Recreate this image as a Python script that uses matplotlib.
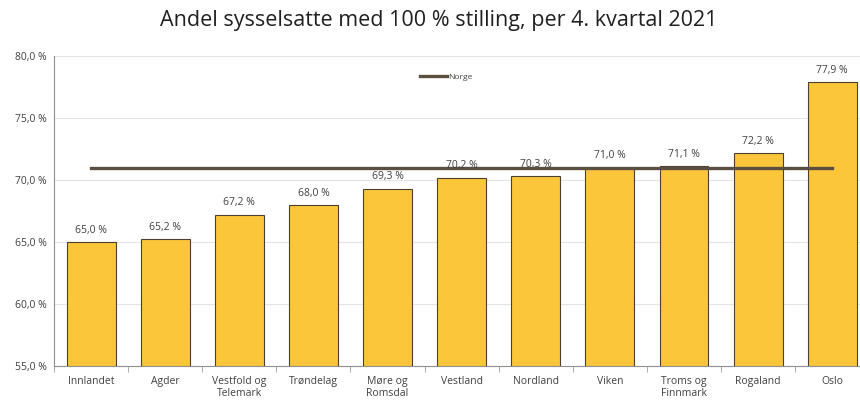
import numpy as np
import matplotlib.pyplot as plt

regions = ["Innlandet", "Agder", "Vestfold og\nTelemark", "Trøndelag", "Møre og\nRomsdal",
           "Vestland", "Nordland", "Viken", "Troms og\nFinnmark", "Rogaland", "Oslo"]
andel = [65.0, 65.2, 67.2, 68.0, 69.3, 70.2, 70.3, 71.0, 71.1, 72.2, 77.9]
norge = 71.0
yticks = [55, 60, 65, 70, 75, 80]

BAR = "#fbc63a"
EDGE = "#4a4030"
LINE = "#5b5040"
GRAY = "#404040"

plt.rcParams['font.family'] = ['Open Sans', 'DejaVu Sans']

fig = plt.figure(figsize=(8.6, 4.03), dpi=100)
ax = fig.add_axes([0.0628, 0.092, 0.948, 0.769])

x = np.arange(len(regions))
ax.bar(x, [v - 55 for v in andel], bottom=55, width=0.66, color=BAR,
       edgecolor=EDGE, linewidth=0.8, zorder=3)
ax.plot([x[0], x[-1]], [norge, norge], color=LINE, lw=2.4, zorder=4, label="Norge")

for xi, v in zip(x, andel):
    ax.text(xi, v + 0.5, f"{v:.1f} %".replace(".", ","), ha="center", va="bottom",
            fontsize=7.5, color=GRAY, zorder=5)

ax.set_xlim(-0.5, len(regions) - 0.5)
ax.set_ylim(55, 80)
ax.set_yticks(yticks)
ax.set_yticklabels([f"{v:.1f} %".replace(".", ",") for v in yticks], fontsize=7.5, color=GRAY)
ax.set_xticks(x)
ax.set_xticklabels(regions, fontsize=7.5, color=GRAY, linespacing=1.2)
ax.tick_params(axis="x", length=0, pad=7)
ax.tick_params(axis="y", length=0, pad=5)
ax.set_xticks(np.arange(-0.5, len(regions), 1), minor=True)
ax.tick_params(axis="x", which="minor", length=4, color="#a0a0a0")

ax.grid(axis="y", color="#e4e4e4", lw=0.8, zorder=0)
for s in ["top", "right"]:
    ax.spines[s].set_visible(False)
ax.spines["left"].set_color("#909090")
ax.spines["bottom"].set_color("#909090")

ax.legend(loc="upper left", bbox_to_anchor=(0.44, 0.97), frameon=False, fontsize=6,
          handlelength=3.2, handletextpad=0.1, labelcolor=GRAY)

fig.suptitle("Andel sysselsatte med 100 % stilling, per 4. kvartal 2021",
             fontsize=15.5, color="#202020", y=0.975, x=0.51)

fig.savefig("out.png", dpi=100)
